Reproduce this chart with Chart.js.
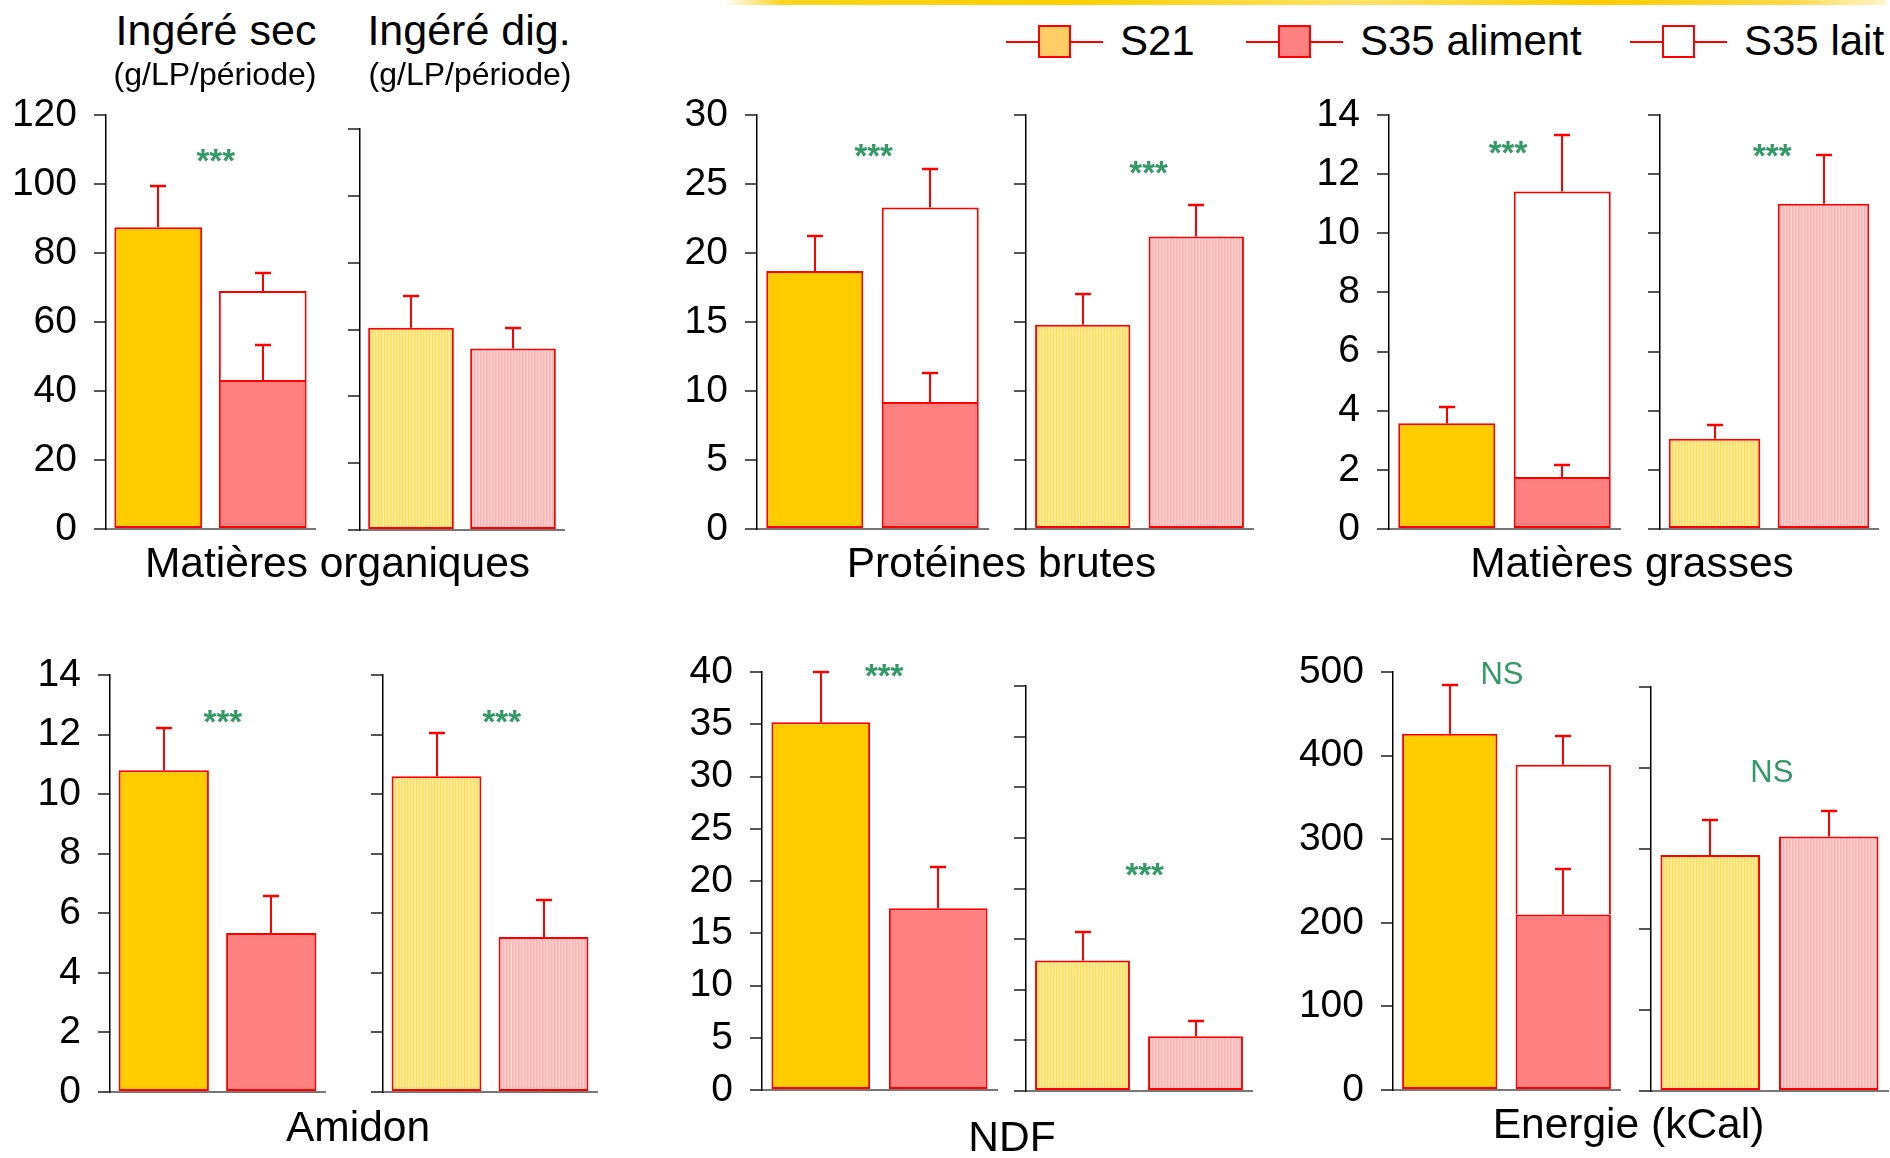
<!DOCTYPE html>
<html>
<head>
<meta charset="utf-8">
<script src="https://cdn.jsdelivr.net/npm/chart.js@4.4.1/dist/chart.umd.min.js"></script>
<style>
  html, body { margin: 0; padding: 0; background: #fff; }
  #stage { position: relative; width: 1890px; height: 1158px; overflow: hidden;
           font-family: "Liberation Sans", Arial, sans-serif; color: #000; }
  #stage canvas { position: absolute; }
  .txt { position: absolute; white-space: nowrap; }
  .streak { position: absolute; left: 725px; top: 0; width: 1161px; height: 5px;
            background: linear-gradient(to right, rgba(255,208,0,0) 0%, #ffd41c 5%, #ffcf00 30%,
                        #ffe36a 55%, #ffcc00 75%, #ffd94a 92%, rgba(255,208,0,0.2) 100%);
            filter: blur(0.6px); }
</style>
</head>
<body>
<div id="stage"><div class="streak"></div></div>
<script>
// ---- Nutrients and series ----
const nutrients   = ['Matières organiques', 'Protéines brutes', 'Matières grasses', 'Amidon', 'NDF', 'Energie (kCal)'];
const seriesNames = ['S21', 'S35 aliment', 'S35 lait'];
const barGroups   = ['S21', 'S35'];
const panelTitles = ['Ingéré sec', 'Ingéré dig.'];
const unitLabel   = '(g/LP/période)';

// Ingéré sec (g/LP/période): means and standard errors
const secS21          = [87.5, 18.7, 3.58, 10.8, 35.2, 426];
const secS21Se        = [11.8, 2.5, 0.53, 1.42, 4.8, 58];
const secS35Aliment   = [43.2, 9.2, 1.76, 5.34, 17.4, 210];
const secS35AlimentSe = [10.1, 2.1, 0.39, 1.24, 3.9, 54];
const secS35Lait      = [25.8, 14.1, 9.65, null, null, 179];
const secS35TotalSe   = [5.1, 2.8, 1.9, null, null, 35];

// Ingéré digestible
const digS21   = [60.5, 14.8, 3.05, 10.6, 12.9, 292];
const digS21Se = [9.6, 2.2, 0.48, 1.44, 2.8, 44];
const digS35   = [54.3, 21.2, 11.0, 5.2, 5.4, 315];
const digS35Se = [6.2, 2.3, 1.64, 1.26, 1.5, 32];

// Axis ranges
const axisMax  = [120, 30, 14, 14, 40, 500];
const axisStep = [20, 5, 2, 2, 5, 100];

// Significance of the S21 / S35 difference
const signifSec = ['***', '***', '***', '***', '***', 'NS'];
const signifDig = ['', '***', '***', '***', '***', 'NS'];

// ---- Page geometry: [axis x, plot right, top tick y, zero y] ----
const frames = [
  { sec: [106, 315, 115, 529],  dig: [360, 564, 129, 530] },
  { sec: [757, 988, 115, 529],  dig: [1026, 1253, 115, 529] },
  { sec: [1389, 1620, 115, 529], dig: [1660, 1878, 115, 529] },
  { sec: [110, 325, 675, 1092], dig: [383, 597, 675, 1092] },
  { sec: [762, 997, 672, 1090], dig: [1026, 1252, 686, 1091] },
  { sec: [1393, 1620, 672, 1090], dig: [1651, 1888, 687, 1091] }
];
// where the significance mark sits: [position between the two bars, height in axis units]
const signifAt = [
  { sec: [0.55, 108.9], dig: [0.5, 0] },
  { sec: [0.51, 27.6],  dig: [0.58, 26.4] },
  { sec: [0.53, 13.0],  dig: [0.53, 12.9] },
  { sec: [0.55, 12.7],  dig: [0.61, 12.7] },
  { sec: [0.54, 40.4],  dig: [0.55, 22.15] },
  { sec: [0.46, 499],   dig: [0.52, 396] }
];
const groupLabelPos = [[337.5, 578], [1001.5, 578], [1632, 578], [358, 1141.5], [1012, 1152], [1628.5, 1138.5]];

const FONT = '"Liberation Sans", Arial, sans-serif';
const EDGE = '#ff0000';
const stage = document.getElementById('stage');

function stripes(colors) {
  const c = document.createElement('canvas');
  c.width = colors.length; c.height = 4;
  const g = c.getContext('2d');
  colors.forEach((col, i) => { g.fillStyle = col; g.fillRect(i, 0, 1, 4); });
  return g.createPattern(c, 'repeat');
}
const fillS21     = '#ffcc00';
const fillAliment = '#ff8080';
const fillLait    = '#ffffff';
const fillS21Dig  = stripes(['#ffe57a', '#ffeea6', '#ffdc5c']);
const fillS35Dig  = stripes(['#ffc2c2', '#ffd2d2', '#ffb2b2']);

// Upper error bars, stacked on top of the cumulative bar value
const errorBars = {
  id: 'errorBars',
  afterDatasetsDraw(chart) {
    const { ctx, scales: { y } } = chart;
    ctx.save();
    ctx.strokeStyle = EDGE;
    chart.data.datasets.forEach((ds, i) => {
      if (!ds.se) return;
      chart.getDatasetMeta(i).data.forEach((bar, j) => {
        const se = ds.se[j];
        if (se == null || ds.data[j] == null) return;
        let cum = 0;
        for (let k = 0; k <= i; k++) {
          const v = chart.data.datasets[k].data[j];
          if (v != null) cum += v;
        }
        const yTop = Math.round(y.getPixelForValue(cum + se));
        const x = Math.round(bar.x);
        ctx.lineWidth = 2;
        ctx.beginPath(); ctx.moveTo(x, bar.y); ctx.lineTo(x, yTop); ctx.stroke();
        ctx.lineWidth = 2.5;
        ctx.beginPath(); ctx.moveTo(x - 8, yTop); ctx.lineTo(x + 8, yTop); ctx.stroke();
      });
    });
    ctx.restore();
  }
};

// Significance mark (*** / NS)
const signifMark = {
  id: 'signif',
  afterDraw(chart, args, opts) {
    if (!opts || !opts.text) return;
    const { ctx, scales: { x, y } } = chart;
    const x0 = x.getPixelForValue(0), x1 = x.getPixelForValue(1);
    const px = x0 + (x1 - x0) * opts.at;
    const stars = opts.text === '***';
    const size = stars ? 33 : 31;
    ctx.save();
    ctx.font = (stars ? 'bold ' : '') + size + 'px ' + FONT;
    ctx.fillStyle = '#339966';
    ctx.textAlign = 'center';
    ctx.textBaseline = 'alphabetic';
    ctx.fillText(opts.text, px, y.getPixelForValue(opts.value) + size * (stars ? 0.575 : 0.358));
    ctx.restore();
  }
};

function bar(label, data, se, fill, skip) {
  return { label, data, se, backgroundColor: fill, borderColor: EDGE, borderWidth: 2,
           borderSkipped: skip || false, categoryPercentage: 1, barPercentage: 0.84 };
}

function makePanel(frame, datasets, max, step, labelled, sig) {
  const [ax, right, top, bottom] = frame;
  const W = labelled ? 100 : 14;
  const PAD = 48;
  const w = W + (right - ax) + 2;
  const h = bottom - top + 2 * PAD;
  const cv = document.createElement('canvas');
  cv.width = w; cv.height = h;
  cv.style.left = (ax - W) + 'px';
  cv.style.top = (top - PAD) + 'px';
  cv.style.width = w + 'px';
  cv.style.height = h + 'px';
  stage.appendChild(cv);
  new Chart(cv, {
    type: 'bar',
    data: { labels: barGroups, datasets },
    options: {
      responsive: false, animation: false, devicePixelRatio: 1,
      layout: { padding: { top: PAD, bottom: PAD, left: 0, right: 2 } },
      plugins: { legend: { display: false }, tooltip: { enabled: false }, signif: sig },
      scales: {
        x: {
          stacked: true,
          grid: { display: true, drawOnChartArea: false, drawTicks: false },
          ticks: { display: false },
          border: { color: '#777', width: 2 },
          afterFit: s => { s.height = 0; }
        },
        y: {
          stacked: true, min: 0, max,
          ticks: { stepSize: step, display: labelled, color: '#000', padding: 17,
                   font: { family: FONT, size: 39 } },
          grid: { drawOnChartArea: false, drawTicks: true, tickLength: 12, color: '#555', lineWidth: 2 },
          border: { color: '#000', width: 1.5 },
          afterFit: s => { s.width = W; }
        }
      }
    },
    plugins: [errorBars, signifMark]
  });
}

nutrients.forEach((name, n) => {
  // Ingéré sec: S21 alone, S35 split into feed and milk
  const secSets = [
    bar(seriesNames[0], [secS21[n], null], [secS21Se[n], null], fillS21),
    bar(seriesNames[1], [null, secS35Aliment[n]], [null, secS35AlimentSe[n]], fillAliment)
  ];
  if (secS35Lait[n] != null) {
    // the milk part sits on the feed part, sharing its top edge
    secSets.push(bar(seriesNames[2], [null, secS35Lait[n]], [null, secS35TotalSe[n]], fillLait, 'start'));
  }
  makePanel(frames[n].sec, secSets, axisMax[n], axisStep[n], true,
            { text: signifSec[n], at: signifAt[n].sec[0], value: signifAt[n].sec[1] });

  // Ingéré digestible
  const digSets = [
    bar(seriesNames[0], [digS21[n], null], [digS21Se[n], null], fillS21Dig),
    bar('S35', [null, digS35[n]], [null, digS35Se[n]], fillS35Dig)
  ];
  makePanel(frames[n].dig, digSets, axisMax[n], axisStep[n], false,
            { text: signifDig[n], at: signifAt[n].dig[0], value: signifAt[n].dig[1] });
});

// ---- Text ----
function text(str, cx, baseline, size, align) {
  const d = document.createElement('div');
  d.className = 'txt';
  d.textContent = str;
  d.style.fontSize = size + 'px';
  d.style.lineHeight = size + 'px';
  d.style.top = (baseline - 0.8465 * size) + 'px';
  d.style.left = cx + 'px';
  if (align !== 'left') d.style.transform = 'translateX(-50%)';
  stage.appendChild(d);
}

text(panelTitles[0], 216, 45, 43);
text(unitLabel, 215, 85, 32);
text(panelTitles[1], 469, 45, 43);
text(unitLabel, 470, 85, 32);

nutrients.forEach((name, n) => text(name, groupLabelPos[n][0], groupLabelPos[n][1], 42.5));

// ---- Legend ----
const legendFills = ['#ffcc66', '#ff8080', '#ffffff'];
const legendX = [1006, 1246, 1630];
seriesNames.forEach((name, i) => {
  const x = legendX[i];
  const line = document.createElement('div');
  Object.assign(line.style, { position: 'absolute', left: x + 'px', top: '40.5px', width: '97px',
                              height: '2px', background: EDGE });
  stage.appendChild(line);
  const box = document.createElement('div');
  Object.assign(box.style, { position: 'absolute', left: (x + 32) + 'px', top: '25px', width: '33px',
                             height: '33px', boxSizing: 'border-box', border: '2.5px solid ' + EDGE,
                             background: legendFills[i] });
  stage.appendChild(box);
  text(name, x + 114, 56, 42, 'left');
});
</script>
</body>
</html>
